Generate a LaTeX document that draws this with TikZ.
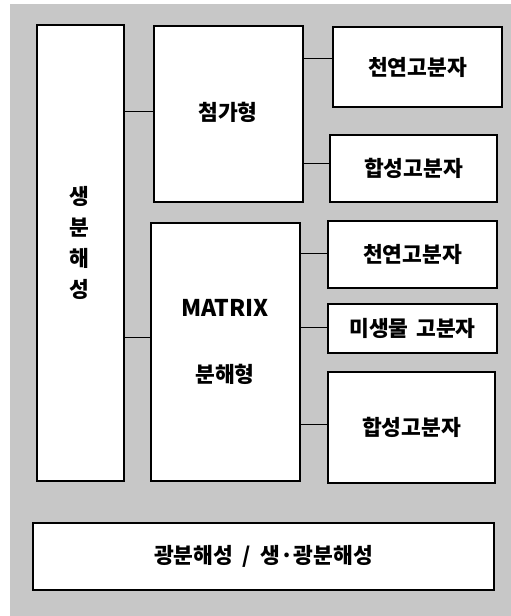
\documentclass[tikz,border=0pt]{standalone}
\usepackage{fontspec}
\setmainfont{Noto Sans CJK KR}
\begin{document}
\begin{tikzpicture}[x=1pt,y=-1pt,
  box/.style={draw=black,line width=1.3pt,fill=white,inner sep=0pt},
  lbl/.style={font=\bfseries\fontsize{21.5}{24}\selectfont,inner sep=0pt},
  link/.style={draw=black,line width=0.9pt}]
\useasboundingbox (0,0) rectangle (511,616);
\fill[black!22] (10,4) rectangle (511,616);
% boxes
\node[box,minimum width=87pt,minimum height=456pt] (L) at (80.5,253) {};
\node[box,minimum width=149pt,minimum height=176pt] (A) at (228.5,114) {};
\node[box,minimum width=169pt,minimum height=80pt] (A1) at (417.5,67) {};
\node[box,minimum width=167pt,minimum height=67pt] (A2) at (413.5,168.5) {};
\node[box,minimum width=149pt,minimum height=258pt] (M) at (225.5,352) {};
\node[box,minimum width=169pt,minimum height=67pt] (M1) at (412.5,254.5) {};
\node[box,minimum width=169pt,minimum height=49pt] (M2) at (412.5,328.5) {};
\node[box,minimum width=167pt,minimum height=111pt] (M3) at (411.5,427.5) {};
\node[box,minimum width=461pt,minimum height=67pt] (B) at (263.5,556.5) {};
% labels
\node[lbl,align=center] (Lt) at (79,243) {생\\[7pt]분\\[7pt]해\\[7pt]성};
\node[lbl] (At) at (228,112) {첨가형};
\node[lbl] (A1t) at (A1) {천연고분자};
\node[lbl] (A2t) at (A2) {합성고분자};
\node[lbl,font=\bfseries\fontsize{23}{25}\selectfont] (Mt1) at (225,308) {MATRIX};
\node[lbl] (Mt2) at (225,374) {분해형};
\node[lbl] (M1t) at (M1) {천연고분자};
\node[lbl] (M2t) at (M2) {미생물\hspace{0.35em}고분자};
\node[lbl] (M3t) at (M3) {합성고분자};
\node[lbl] (Bt) at (B) {광분해성\hspace{0.45em}/\hspace{0.45em}생·광분해성};
% connectors
\coordinate (c1) at (0,111);
\coordinate (c2) at (0,337);
\coordinate (c3) at (0,58);
\coordinate (c4) at (0,163);
\coordinate (c5) at (0,253);
\coordinate (c6) at (0,327);
\coordinate (c7) at (0,424);
\draw[link] (L.east |- c1) -- (A.west |- c1);
\draw[link] (L.east |- c2) -- (M.west |- c2);
\draw[link] (A.east |- c3) -- (A1.west |- c3);
\draw[link] (A.east |- c4) -- (A2.west |- c4);
\draw[link] (M.east |- c5) -- (M1.west |- c5);
\draw[link] (M.east |- c6) -- (M2.west |- c6);
\draw[link] (M.east |- c7) -- (M3.west |- c7);
\end{tikzpicture}
\end{document}
